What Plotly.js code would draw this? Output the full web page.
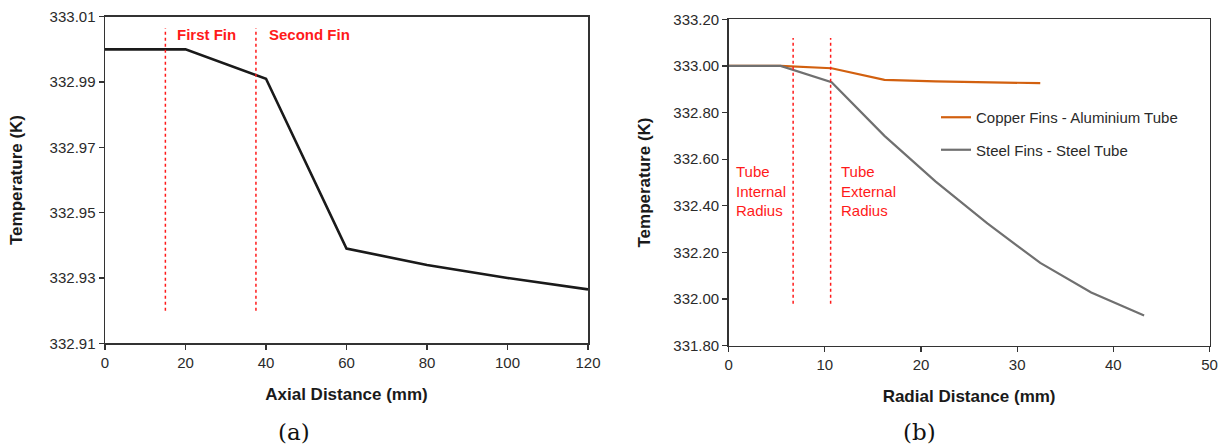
<!DOCTYPE html>
<html><head><meta charset="utf-8">
<script src="https://cdn.plot.ly/plotly-3.0.1.min.js"></script>
<style>html,body{margin:0;padding:0;background:#fff}</style>
</head><body><div id="chart" style="width:1229px;height:448px"></div>
<script>
// Panel (a)
const axialDistance = [0, 20, 40, 60, 80, 100, 120];
const axialTemperature = [333.000, 333.000, 332.991, 332.939, 332.934, 332.930, 332.9265];
const finPositions = [15, 37.5];
const finLabels = ['First Fin', 'Second Fin'];
const finLabelX = [17.4, 40.2];
const axialTickVals = [332.91, 332.93, 332.95, 332.97, 332.99, 333.01];
const axialTickText = ['332.91', '332.93', '332.95', '332.97', '332.99', '333.01'];

// Panel (b)
const copperDistance = [0, 5.4, 10.7, 16.2, 21.5, 26.9, 32.4];
const copperTemperature = [333.000, 333.000, 332.990, 332.940, 332.934, 332.929, 332.926];
const steelDistance = [0, 5.4, 10.7, 16.2, 21.5, 26.9, 32.4, 37.7, 43.2];
const steelTemperature = [333.000, 333.000, 332.930, 332.700, 332.505, 332.325, 332.155, 332.028, 331.930];
const seriesNames = ['Copper Fins - Aluminium Tube', 'Steel Fins - Steel Tube'];
const radiusPositions = [6.7, 10.6];
const radiusLabels = ['Tube<br>Internal<br>Radius', 'Tube<br>External<br>Radius'];
const radiusLabelX = [0.6, 11.5];
const radialTickVals = [331.8, 332.0, 332.2, 332.4, 332.6, 332.8, 333.0, 333.2];
const radialTickText = ['331.80', '332.00', '332.20', '332.40', '332.60', '332.80', '333.00', '333.20'];
const panelLabels = ['(a)', '(b)'];

const sans = 'Liberation Sans, Arial, sans-serif';
const red = '#ff1a1a';

const traces = [
  {x: axialDistance, y: axialTemperature, xaxis: 'x', yaxis: 'y', mode: 'lines',
   line: {color: '#1a1a1a', width: 2.6}, showlegend: false, hoverinfo: 'skip'},
];
finPositions.forEach(p => traces.push({
  x: [p, p], y: [332.92, 333.0065], xaxis: 'x', yaxis: 'y', mode: 'lines',
  line: {color: red, width: 1.5, dash: 'dot'}, showlegend: false, hoverinfo: 'skip'}));
traces.push({x: copperDistance, y: copperTemperature, xaxis: 'x2', yaxis: 'y2', mode: 'lines',
  name: seriesNames[0], line: {color: '#d2600f', width: 2.2}, legendgroup: 'a'});
traces.push({x: steelDistance, y: steelTemperature, xaxis: 'x2', yaxis: 'y2', mode: 'lines',
  name: seriesNames[1], line: {color: '#707070', width: 2.2}, legendgroup: 'b'});
radiusPositions.forEach(p => traces.push({
  x: [p, p], y: [331.98, 333.12], xaxis: 'x2', yaxis: 'y2', mode: 'lines',
  line: {color: red, width: 1.5, dash: 'dot'}, showlegend: false, hoverinfo: 'skip'}));

const annotations = [];
finLabels.forEach((t, i) => annotations.push({
  text: t, x: finLabelX[i], y: 333.0044, xref: 'x', yref: 'y', xanchor: 'left', yanchor: 'middle',
  showarrow: false, font: {family: sans, size: 15, color: red, weight: 700}}));
radiusLabels.forEach((t, i) => annotations.push({
  text: t, x: radiusLabelX[i], y: 332.465, xref: 'x2', yref: 'y2', xanchor: 'left', yanchor: 'middle',
  align: 'left', showarrow: false, font: {family: sans, size: 15, color: red}}));
[294, 919].forEach((px, i) => annotations.push({
  text: panelLabels[i], x: px / 1229, y: 1 - 432 / 448, xref: 'paper', yref: 'paper',
  xanchor: 'center', yanchor: 'middle', showarrow: false,
  font: {family: 'DejaVu Serif, Liberation Serif, serif', size: 23, color: '#111'}}));

const axisCommon = {
  showline: true, linecolor: '#333', linewidth: 1.5, mirror: true,
  ticks: 'outside', ticklen: 5, tickwidth: 1.2, tickcolor: '#333',
  showgrid: false, zeroline: false,
  tickfont: {family: sans, size: 15, color: '#2a2a2a'},
};
const titleFont = {family: sans, size: 17, color: '#1a1a1a', weight: 700};

const layout = {
  width: 1229, height: 448,
  margin: {l: 0, r: 0, t: 0, b: 0},
  paper_bgcolor: '#fff', plot_bgcolor: '#fff',
  xaxis: Object.assign({}, axisCommon, {domain: [105/1229, 588/1229], range: [0, 120],
    tickvals: [0, 20, 40, 60, 80, 100, 120], anchor: 'y',
    title: {text: 'Axial Distance (mm)', font: titleFont, standoff: 18}}),
  yaxis: Object.assign({}, axisCommon, {domain: [1 - 343.3/448, 1 - 16.7/448], range: [332.91, 333.01],
    tickvals: axialTickVals, ticktext: axialTickText, anchor: 'x',
    title: {text: 'Temperature (K)', font: titleFont, standoff: 22}}),
  xaxis2: Object.assign({}, axisCommon, {domain: [728.7/1229, 1209.5/1229], range: [0, 50],
    tickvals: [0, 10, 20, 30, 40, 50], anchor: 'y2',
    title: {text: 'Radial Distance (mm)', font: titleFont, standoff: 18}}),
  yaxis2: Object.assign({}, axisCommon, {domain: [1 - 345.7/448, 1 - 19.3/448], range: [331.8, 333.2],
    tickvals: radialTickVals, ticktext: radialTickText, anchor: 'x2',
    title: {text: 'Temperature (K)', font: titleFont, standoff: 18}}),
  showlegend: true,
  legend: {x: 936/1229, y: 1 - 101/448, xanchor: 'left', yanchor: 'top', bgcolor: 'rgba(0,0,0,0)',
    font: {family: sans, size: 15, color: '#2a2a2a'}, tracegroupgap: 10},
  annotations: annotations,
};

Plotly.newPlot('chart', traces, layout, {staticPlot: true, displayModeBar: false});
</script></body></html>
